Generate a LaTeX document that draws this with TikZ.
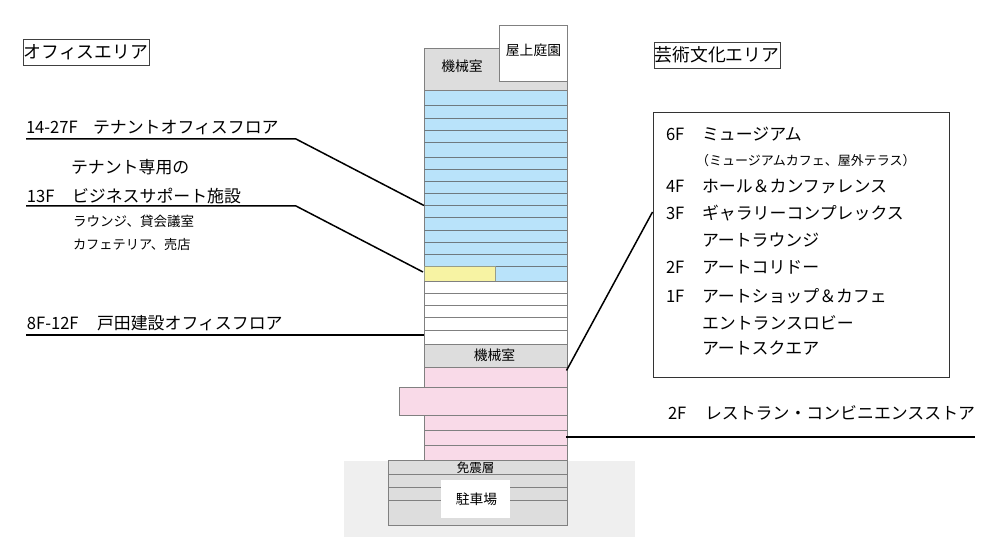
\documentclass[tikz,border=0pt]{standalone}
\usepackage{fontspec}
\setmainfont{Noto Sans CJK JP}
\newcommand{\lat}[1]{\scalebox{.98}[1]{#1}}
\definecolor{fblue}{HTML}{B9E3FA}
\definecolor{fyellow}{HTML}{F7F3A3}
\definecolor{fpink}{HTML}{F9DAE8}
\definecolor{fgrey}{HTML}{DDDDDD}
\definecolor{bggrey}{HTML}{EFEFEF}
\definecolor{edge}{HTML}{808080}
\definecolor{floorline}{HTML}{6E7A80}
\tikzset{
  txt/.style={anchor=base west,inner sep=0pt,outer sep=0pt,text=black,font=\fontsize{16.9}{20}\selectfont},
  small/.style={txt,font=\fontsize{13.2}{16}\selectfont},
  room/.style={anchor=center,inner sep=0pt,outer sep=0pt,font=\fontsize{13.8}{16}\selectfont},
  heading/.style={draw=black!75,line width=.8pt,inner sep=0pt,minimum height=26pt,minimum width=126pt,anchor=center,font=\fontsize{17.8}{20}\selectfont},
  block/.style={draw=edge,line width=1pt},
  floorsep/.style={floorline,line width=1pt},
  leader/.style={black,line width=1.5pt},
}
\begin{document}
\begin{tikzpicture}[x=1pt,y=-1pt]
\useasboundingbox (0,0) rectangle (1000,545);
\fill[white] (0,0) rectangle (1000,545);
% ground
\fill[bggrey] (344.3,460.7) rectangle (635,536.7);
% top machine room and roof garden
\draw[block,fill=fgrey] (424,49) rectangle (567,91);
\draw[block,fill=white] (499.5,25.5) rectangle (567,82);
% tenant floors
\draw[block,fill=fblue] (424,91) rectangle (567,281.3);
\foreach \y in {105.7,118.3,130.3,142.3,157.3,169.3,181.7,193.7,205.3,217.7,230.3,242.3,254.3,266.3}
  \draw[floorsep] (424,\y) -- (567,\y);
\draw[draw=floorline!70!fyellow,line width=.8pt,fill=fyellow] (424,266.3) rectangle (495.5,281.3);
% own office floors
\draw[block,fill=white] (424,281.3) rectangle (567,344.3);
\foreach \y in {293.3,305.3,317.3,330}
  \draw[floorsep,edge] (424,\y) -- (567,\y);
% mid machine room
\draw[block,fill=fgrey] (424,344.3) rectangle (567,367.3);
% arts floors
\draw[block,fill=fpink] (424,367.3) rectangle (567,460.7);
\draw[block,fill=fpink] (399.3,387.7) rectangle (567,415.7);
\foreach \y in {430.7,445.3}
  \draw[floorsep,edge] (424,\y) -- (567,\y);
% basement
\draw[block,fill=fgrey] (388,460.7) rectangle (567,525.7);
\foreach \y in {474.3,487.3,500.3}
  \draw[floorsep,edge] (388,\y) -- (567,\y);
\fill[white] (441,480) rectangle (510,518);
% room labels
\node[room] (mech1) at (462,66.5) {機械室};
\node[room] (roof) at (533.5,50.5) {屋上庭園};
\node[room] (mech2) at (494.5,355) {機械室};
\node[room,font=\fontsize{12.5}{15}\selectfont] (iso) at (475.5,467.5) {免震層};
\node[room] (park) at (476.5,499) {駐車場};
% headings
\node[heading] (officehead) at (86,52) {オフィスエリア};
\node[heading] (artshead) at (717,55) {芸術文化エリア};
% left labels
\node[txt] (a14) at (26,134) {\lat{14-27F}};
\node[txt] (a14t) at (93,134) {テナントオフィスフロア};
\node[txt] (a13a) at (71,174) {テナント専用の};
\node[txt] (a13) at (27,203) {\lat{13F}};
\node[txt] (a13t) at (72,203) {ビジネスサポート施設};
\node[small,font=\fontsize{13.5}{16}\selectfont] (a13b) at (73,227) {ラウンジ、貸会議室};
\node[small] (a13c) at (73,249) {カフェテリア、売店};
\node[txt] (a8) at (27,329) {\lat{8F-12F}};
\node[txt] (a8t) at (97,329) {戸田建設オフィスフロア};
% right box
\node[draw=black!80,line width=.8pt,minimum width=296.5pt,minimum height=265pt,inner sep=0pt,anchor=north west] (artsbox) at (652.5,112) {};
\node[txt] (f6) at (666,141) {\lat{6F}};
\node[txt] (f6t) at (702,141) {ミュージアム};
\node[txt,font=\fontsize{13}{15}\selectfont] (f6b) at (696,166) {（ミュージアムカフェ、屋外テラス）};
\node[txt] (f4) at (666,193) {\lat{4F}};
\node[txt] (f4t) at (702,193) {ホール＆カンファレンス};
\node[txt] (f3) at (666,220) {\lat{3F}};
\node[txt] (f3t) at (702,220) {ギャラリーコンプレックス};
\node[txt] (f3b) at (702,246) {アートラウンジ};
\node[txt] (f2) at (666,273) {\lat{2F}};
\node[txt] (f2t) at (702,273) {アートコリドー};
\node[txt] (f1) at (666,302) {\lat{1F}};
\node[txt] (f1t) at (702,302) {アートショップ＆カフェ};
\node[txt] (f1b) at (702,329) {エントランスロビー};
\node[txt] (f1c) at (702,354) {アートスクエア};
\node[txt] (r2) at (668,419) {\lat{2F}};
\node[txt] (r2t) at (705,419) {レストラン・コンビニエンスストア};
% leaders
\coordinate (l14s) at (26,139);
\coordinate (l14k) at (296,139);
\coordinate (l14e) at (424,205.5);
\coordinate (l13s) at (26,206);
\coordinate (l13k) at (296,206);
\coordinate (l13e) at (423,272);
\coordinate (l8s) at (26,335);
\coordinate (l8e) at (424,335);
\coordinate (lbe) at (652.5,212);
\coordinate (lbs) at (566.5,370.5);
\coordinate (lrs) at (566,437);
\coordinate (lre) at (975,437);
\draw[leader] (l14s) -- (l14k) -- (l14e);
\draw[leader] (l13s) -- (l13k) -- (l13e);
\draw[leader] (l8s) -- (l8e);
\draw[leader] (lbs) -- (lbe);
\draw[leader] (lrs) -- (lre);
\end{tikzpicture}
\end{document}
